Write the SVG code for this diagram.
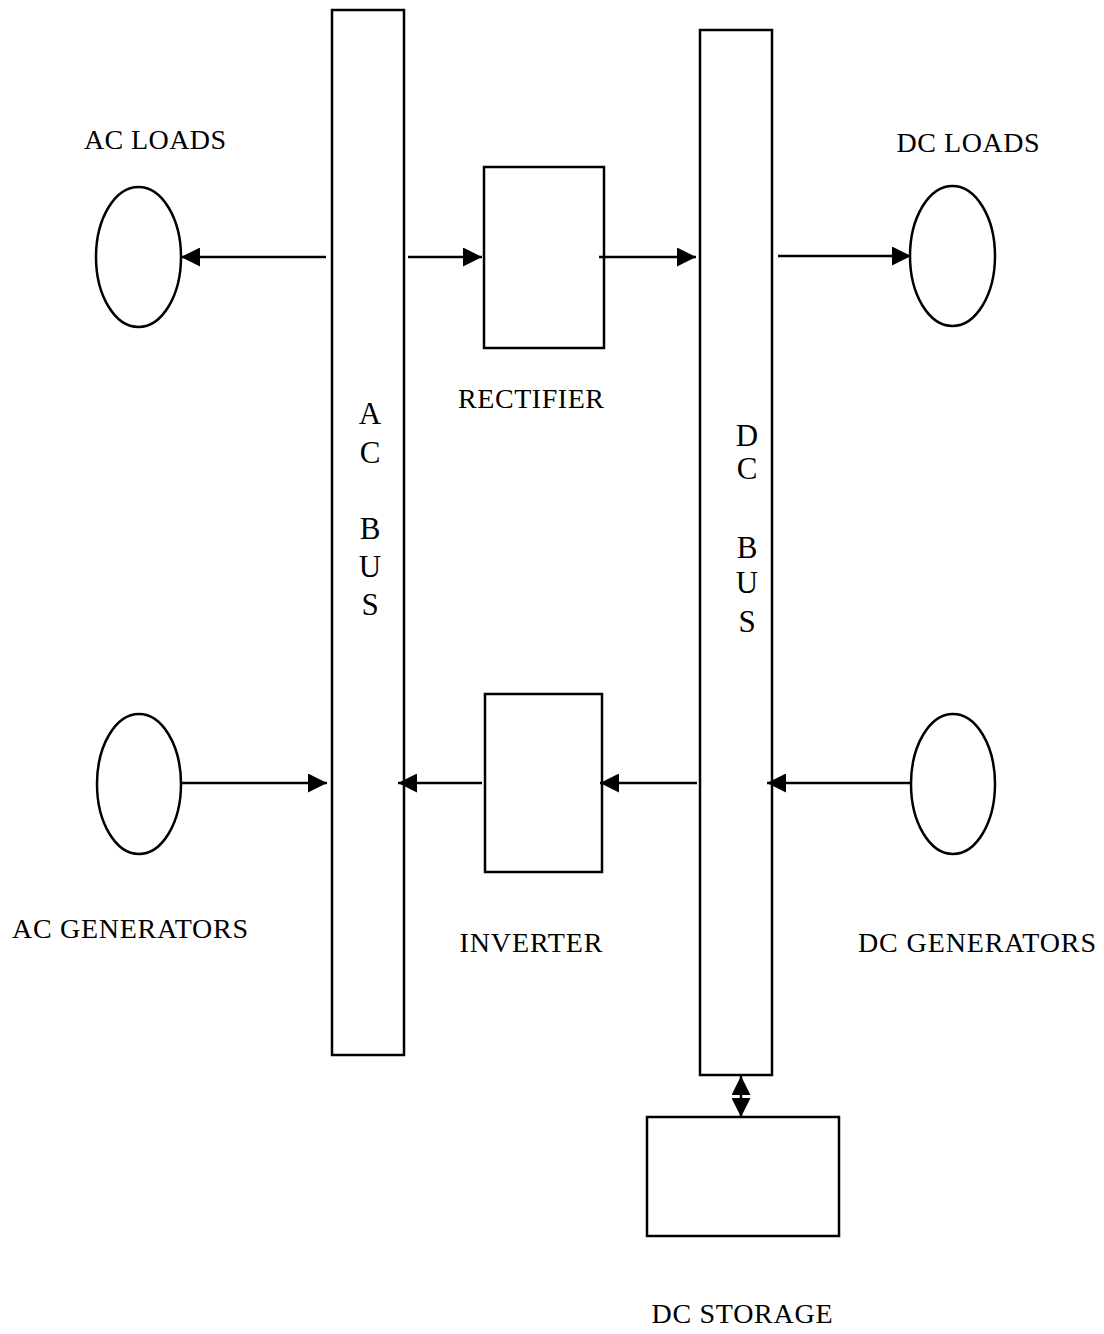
<svg xmlns="http://www.w3.org/2000/svg" width="1104" height="1334" viewBox="0 0 1104 1334">
<style>
.box{fill:#fff;stroke:#000;stroke-width:2.5}
.lbl{font-family:"Liberation Serif","Times New Roman",serif;font-size:28px;fill:#000;text-anchor:middle}
.bus{font-family:"Liberation Serif","Times New Roman",serif;font-size:31px;fill:#000;text-anchor:middle}
.con{stroke:#000;stroke-width:2.5;fill:none}
</style>
<defs>
<marker id="ah" markerUnits="userSpaceOnUse" markerWidth="19" markerHeight="19" refX="19" refY="9.5" orient="auto-start-reverse">
<path d="M0,0 L19,9.5 L0,19 z" fill="#000"/>
</marker>
</defs>
<rect width="1104" height="1334" fill="#fff"/>
<g id="ac-bus">
<rect class="box" x="332" y="10" width="72" height="1045"/>
<text class="bus" x="370" y="424">A</text>
<text class="bus" x="370" y="463">C</text>
<text class="bus" x="370" y="539">B</text>
<text class="bus" x="370" y="577">U</text>
<text class="bus" x="370" y="615">S</text>
</g>
<g id="dc-bus">
<rect class="box" x="700" y="30" width="72" height="1045"/>
<text class="bus" x="747" y="446">D</text>
<text class="bus" x="747" y="479">C</text>
<text class="bus" x="747" y="558">B</text>
<text class="bus" x="747" y="593">U</text>
<text class="bus" x="747" y="632">S</text>
</g>
<g id="rectifier">
<rect class="box" x="484" y="167" width="120" height="181"/>
<text class="lbl" x="531" y="408" textLength="146" lengthAdjust="spacing">RECTIFIER</text>
</g>
<g id="inverter">
<rect class="box" x="485" y="694" width="117" height="178"/>
<text class="lbl" x="531" y="952" textLength="143" lengthAdjust="spacing">INVERTER</text>
</g>
<g id="dc-storage">
<rect class="box" x="647" y="1117" width="192" height="119"/>
<text class="lbl" x="742" y="1323" textLength="181" lengthAdjust="spacing">DC STORAGE</text>
</g>
<g id="ac-loads">
<ellipse class="box" cx="138.5" cy="257" rx="42.5" ry="70"/>
<text class="lbl" x="155" y="149" textLength="142" lengthAdjust="spacing">AC LOADS</text>
</g>
<g id="ac-generators">
<ellipse class="box" cx="139" cy="784" rx="42" ry="70"/>
<text class="lbl" x="130" y="938" textLength="236" lengthAdjust="spacing">AC GENERATORS</text>
</g>
<g id="dc-loads">
<ellipse class="box" cx="952.5" cy="256" rx="42.5" ry="70"/>
<text class="lbl" x="968" y="152" textLength="143" lengthAdjust="spacing">DC LOADS</text>
</g>
<g id="dc-generators">
<ellipse class="box" cx="953" cy="784" rx="42" ry="70"/>
<text class="lbl" x="977" y="952" textLength="238" lengthAdjust="spacing">DC GENERATORS</text>
</g>
<g id="connectors">
<line class="con" x1="326" y1="257" x2="181" y2="257" marker-end="url(#ah)"/>
<line class="con" x1="408" y1="257" x2="482" y2="257" marker-end="url(#ah)"/>
<line class="con" x1="599" y1="257" x2="696" y2="257" marker-end="url(#ah)"/>
<line class="con" x1="778" y1="256" x2="911" y2="256" marker-end="url(#ah)"/>
<line class="con" x1="181" y1="783" x2="327" y2="783" marker-end="url(#ah)"/>
<line class="con" x1="482" y1="783" x2="398" y2="783" marker-end="url(#ah)"/>
<line class="con" x1="697" y1="783" x2="600" y2="783" marker-end="url(#ah)"/>
<line class="con" x1="910" y1="783" x2="767" y2="783" marker-end="url(#ah)"/>
<line class="con" x1="741" y1="1076" x2="741" y2="1117" marker-start="url(#ah)" marker-end="url(#ah)"/>
</g>
</svg>
